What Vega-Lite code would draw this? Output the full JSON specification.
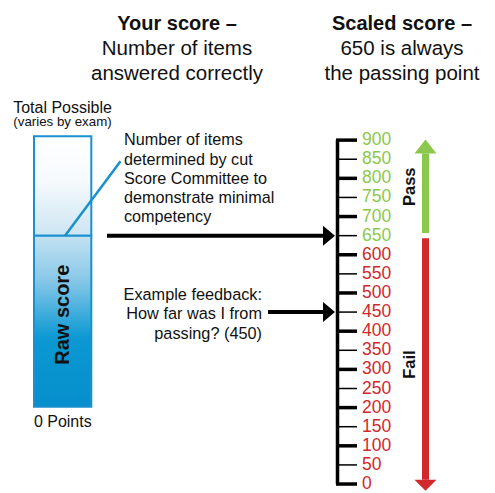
{
  "$schema": "https://vega.github.io/schema/vega-lite/v6.json",
  "width": 495,
  "height": 493,
  "padding": 0,
  "autosize": {"type": "fit", "contains": "padding"},
  "background": "white",
  "config": {"view": {"stroke": null}, "text": {"font": "Liberation Sans", "color": "#111111"}},
  "datasets": {
    "ticks": [
      {"score": 0, "kind": "major"}, {"score": 50, "kind": "minor"}, {"score": 100, "kind": "major"}, {"score": 150, "kind": "minor"},
      {"score": 200, "kind": "major"}, {"score": 250, "kind": "minor"}, {"score": 300, "kind": "major"}, {"score": 350, "kind": "minor"},
      {"score": 400, "kind": "major"}, {"score": 450, "kind": "minor"}, {"score": 500, "kind": "major"}, {"score": 550, "kind": "minor"},
      {"score": 600, "kind": "major"}, {"score": 650, "kind": "minor"}, {"score": 700, "kind": "major"}, {"score": 750, "kind": "minor"},
      {"score": 800, "kind": "major"}, {"score": 850, "kind": "minor"}, {"score": 900, "kind": "major"}
    ]
  },
  "layer": [
    {
      "data": {"values": [{"part": "above cut", "x": 34, "x2": 91.3, "y": 650, "y2": 910.4}]},
      "mark": {"type": "rect", "stroke": "#1a90d0", "strokeWidth": 2,
        "fill": {"gradient": "linear", "x1": 0, "y1": 0, "x2": 0, "y2": 1,
          "stops": [{"offset": 0, "color": "#ffffff"}, {"offset": 0.45, "color": "#f6fafd"}, {"offset": 1, "color": "#cce5f2"}]}},
      "encoding": {
        "x": {"field": "x", "type": "quantitative", "scale": {"domain": [0, 495], "nice": false, "zero": false}, "axis": null},
        "x2": {"field": "x2"},
        "y": {"field": "y", "type": "quantitative", "scale": {"domain": [-18.24, 1266.7], "nice": false, "zero": false}, "axis": null},
        "y2": {"field": "y2"}
      }
    },
    {
      "data": {"values": [{"part": "raw score", "x": 34, "x2": 91.3, "y": 202.5, "y2": 650}]},
      "mark": {"type": "rect", "stroke": "#1a90d0", "strokeWidth": 2,
        "fill": {"gradient": "linear", "x1": 0, "y1": 0, "x2": 0, "y2": 1,
          "stops": [{"offset": 0, "color": "#c3e2f2"}, {"offset": 0.25, "color": "#8bc9e8"}, {"offset": 0.6, "color": "#0b98d3"}, {"offset": 1, "color": "#068fcc"}]}},
      "encoding": {
        "x": {"field": "x", "type": "quantitative", "axis": null},
        "x2": {"field": "x2"},
        "y": {"field": "y", "type": "quantitative", "axis": null},
        "y2": {"field": "y2"}
      }
    },
    {
      "data": {"values": [{"x": 65, "y": 650, "x2": 120.5, "y2": 844.5}]},
      "mark": {"type": "rule", "color": "#1a90d0", "strokeWidth": 2.5},
      "encoding": {
        "x": {"field": "x", "type": "quantitative", "axis": null},
        "x2": {"field": "x2"},
        "y": {"field": "y", "type": "quantitative", "axis": null},
        "y2": {"field": "y2"}
      }
    },
    {
      "data": {"values": [{"x": 107, "x2": 324, "score": 650}, {"x": 268, "x2": 324, "score": 450}]},
      "mark": {"type": "rule", "color": "#000000", "strokeWidth": 4},
      "encoding": {
        "x": {"field": "x", "type": "quantitative", "axis": null},
        "x2": {"field": "x2"},
        "y": {"field": "score", "type": "quantitative", "axis": null}
      }
    },
    {
      "data": {"values": [{"x": 323, "score": 650}, {"x": 323, "score": 450}]},
      "mark": {"type": "point", "filled": true, "opacity": 1, "color": "#000000", "strokeWidth": 0, "size": 400, "shape": "M0,-1L0,1L1.2,0Z"},
      "encoding": {
        "x": {"field": "x", "type": "quantitative", "axis": null},
        "y": {"field": "score", "type": "quantitative", "axis": null}
      }
    },
    {
      "data": {"values": [{"x": 337.5, "from": 0, "to": 900}]},
      "mark": {"type": "rule", "color": "#000000", "strokeWidth": 3.5},
      "encoding": {
        "x": {"field": "x", "type": "quantitative", "axis": null},
        "y": {"field": "from", "type": "quantitative", "axis": null},
        "y2": {"field": "to"}
      }
    },
    {
      "data": {"name": "ticks"},
      "mark": {"type": "rule", "color": "#000000"},
      "encoding": {
        "x": {"datum": 336, "type": "quantitative", "axis": null},
        "x2": {"datum": 357},
        "y": {"field": "score", "type": "quantitative", "axis": null},
        "strokeWidth": {"field": "kind", "type": "nominal", "scale": {"domain": ["major", "minor"], "range": [3.5, 1.5]}, "legend": null}
      }
    },
    {
      "data": {"name": "ticks"},
      "mark": {"type": "text", "align": "left", "baseline": "middle", "fontSize": 17.5},
      "encoding": {
        "x": {"datum": 362, "type": "quantitative", "axis": null},
        "y": {"field": "score", "type": "quantitative", "axis": null},
        "text": {"field": "score", "type": "quantitative"},
        "color": {"condition": {"test": "datum.score >= 650", "value": "#8cc84b"}, "value": "#d1282c"}
      }
    },
    {
      "data": {"values": [{"zone": "Pass", "x": 425.5, "from": 656.8, "to": 865.3}, {"zone": "Fail", "x": 425.5, "from": 643, "to": 11.2}]},
      "mark": {"type": "rule", "strokeWidth": 7},
      "encoding": {
        "x": {"field": "x", "type": "quantitative", "axis": null},
        "y": {"field": "from", "type": "quantitative", "axis": null},
        "y2": {"field": "to"},
        "color": {"field": "zone", "type": "nominal", "scale": {"domain": ["Pass", "Fail"], "range": ["#8cc84b", "#d1282c"]}, "legend": null}
      }
    },
    {
      "data": {"values": [{"zone": "Pass", "x": 425.5, "to": 865.3}, {"zone": "Fail", "x": 425.5, "to": 11.2}]},
      "mark": {"type": "point", "filled": true, "opacity": 1, "strokeWidth": 0, "size": 484},
      "encoding": {
        "x": {"field": "x", "type": "quantitative", "axis": null},
        "y": {"field": "to", "type": "quantitative", "axis": null},
        "color": {"field": "zone", "type": "nominal", "legend": null},
        "shape": {"field": "zone", "type": "nominal", "scale": {"domain": ["Pass", "Fail"], "range": ["M-1,0L1,0L0,-1.27Z", "M-1,0L1,0L0,1Z"]}, "legend": null}
      }
    },
    {
      "data": {"values": [{"text": "Your score –", "x": 177, "y": 1188.5}, {"text": "Scaled score –", "x": 402, "y": 1188.5}]},
      "mark": {"type": "text", "align": "center", "baseline": "alphabetic", "fontSize": 20, "fontWeight": "bold"},
      "encoding": {
        "x": {"field": "x", "type": "quantitative", "axis": null},
        "y": {"field": "y", "type": "quantitative", "axis": null},
        "text": {"field": "text"}
      }
    },
    {
      "data": {"values": [
        {"text": "Number of items", "x": 177, "y": 1123.4},
        {"text": "answered correctly", "x": 177, "y": 1058.2},
        {"text": "650 is always", "x": 402, "y": 1123.4},
        {"text": "the passing point", "x": 402, "y": 1058.2}
      ]},
      "mark": {"type": "text", "align": "center", "baseline": "alphabetic", "fontSize": 20.5},
      "encoding": {
        "x": {"field": "x", "type": "quantitative", "axis": null},
        "y": {"field": "y", "type": "quantitative", "axis": null},
        "text": {"field": "text"}
      }
    },
    {
      "data": {"values": [{"text": "Total Possible", "x": 62.5, "y": 972.2}, {"text": "0 Points", "x": 62.8, "y": 150.4}]},
      "mark": {"type": "text", "align": "center", "baseline": "alphabetic", "fontSize": 16},
      "encoding": {
        "x": {"field": "x", "type": "quantitative", "axis": null},
        "y": {"field": "y", "type": "quantitative", "axis": null},
        "text": {"field": "text"}
      }
    },
    {
      "data": {"values": [{"text": "(varies by exam)", "x": 62.5, "y": 935.7}]},
      "mark": {"type": "text", "align": "center", "baseline": "alphabetic", "fontSize": 13.3},
      "encoding": {
        "x": {"field": "x", "type": "quantitative", "axis": null},
        "y": {"field": "y", "type": "quantitative", "axis": null},
        "text": {"field": "text"}
      }
    },
    {
      "data": {"values": [
        {"text": "Number of items", "x": 124, "y": 886.2},
        {"text": "determined by cut", "x": 124, "y": 835.9},
        {"text": "Score Committee to", "x": 124, "y": 785.6},
        {"text": "demonstrate minimal", "x": 124, "y": 735.0},
        {"text": "competency", "x": 124, "y": 685.5}
      ]},
      "mark": {"type": "text", "align": "left", "baseline": "alphabetic", "fontSize": 16.2},
      "encoding": {
        "x": {"field": "x", "type": "quantitative", "axis": null},
        "y": {"field": "y", "type": "quantitative", "axis": null},
        "text": {"field": "text"}
      }
    },
    {
      "data": {"values": [
        {"text": "Example feedback:", "x": 262, "y": 480.4},
        {"text": "How far was I from", "x": 262, "y": 432.7},
        {"text": "passing? (450)", "x": 262, "y": 380.5}
      ]},
      "mark": {"type": "text", "align": "right", "baseline": "alphabetic", "fontSize": 16.3},
      "encoding": {
        "x": {"field": "x", "type": "quantitative", "axis": null},
        "y": {"field": "y", "type": "quantitative", "axis": null},
        "text": {"field": "text"}
      }
    },
    {
      "data": {"values": [{"text": "Raw score", "x": 62.5, "y": 443}]},
      "mark": {"type": "text", "align": "center", "baseline": "middle", "fontSize": 20, "fontWeight": "bold", "angle": 270},
      "encoding": {
        "x": {"field": "x", "type": "quantitative", "axis": null},
        "y": {"field": "y", "type": "quantitative", "axis": null},
        "text": {"field": "text"}
      }
    },
    {
      "data": {"values": [{"text": "Pass", "x": 409.5, "y": 778}, {"text": "Fail", "x": 410, "y": 312.8}]},
      "mark": {"type": "text", "align": "center", "baseline": "middle", "fontSize": 16.5, "fontWeight": "bold", "angle": 270},
      "encoding": {
        "x": {"field": "x", "type": "quantitative", "axis": null},
        "y": {"field": "y", "type": "quantitative", "axis": null},
        "text": {"field": "text"}
      }
    }
  ]
}
